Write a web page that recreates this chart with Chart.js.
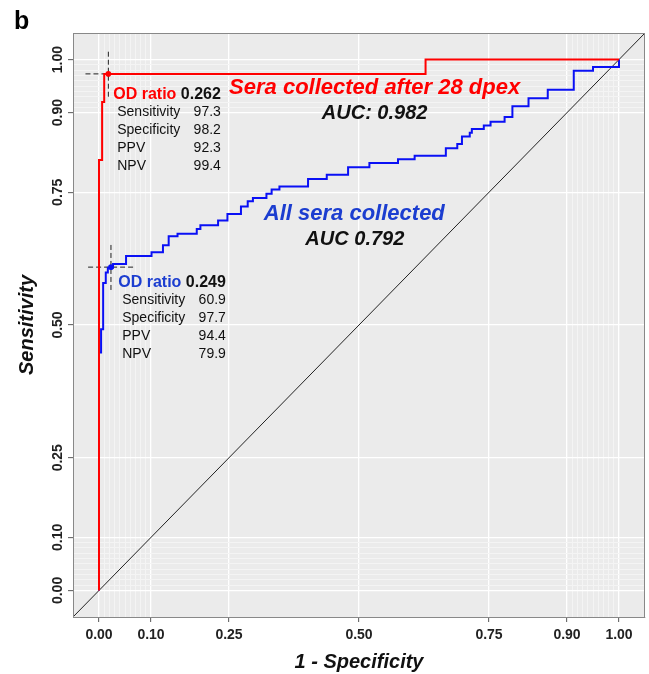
<!DOCTYPE html>
<html>
<head>
<meta charset="utf-8">
<script src="https://cdn.jsdelivr.net/npm/chart.js@4.4.1/dist/chart.umd.min.js"></script>
<style>
  body { margin: 0; background: #fff; }
  #wrap { width: 649px; height: 674px; }
</style>
</head>
<body>
<div id="wrap"><canvas id="roc" width="649" height="674"></canvas></div>
<script>
// ROC curves: 1 - specificity (fpr) and sensitivity (tpr) at each step
var redFpr = [0, 0, 0.006, 0.010, 0.628, 1.0];
var redTpr = [0, 0.811, 0.920, 0.973, 1.0, 1.0];

var blueFpr = [0, 0, 0.004, 0.008, 0.013, 0.017, 0.027, 0.052, 0.101, 0.123, 0.134, 0.151,
  0.188, 0.195, 0.229, 0.247, 0.273, 0.286, 0.296, 0.322, 0.332, 0.347, 0.402, 0.438,
  0.479, 0.520, 0.575, 0.607, 0.667, 0.689, 0.698, 0.713, 0.717, 0.740, 0.753, 0.780,
  0.795, 0.826, 0.863, 0.913, 0.950, 1.0];
var blueTpr = [0, 0.448, 0.492, 0.579, 0.599, 0.608, 0.615, 0.630, 0.637, 0.650, 0.667, 0.672,
  0.681, 0.688, 0.697, 0.709, 0.723, 0.733, 0.739, 0.747, 0.755, 0.761, 0.775, 0.783,
  0.797, 0.805, 0.812, 0.819, 0.833, 0.841, 0.855, 0.862, 0.869, 0.876, 0.883, 0.892,
  0.912, 0.927, 0.943, 0.979, 0.986, 1.0];

// best cut-off points (red, blue)
var cutFpr = [0.018, 0.023];
var cutTpr = [0.973, 0.609];
var odRatio = ['0.262', '0.249'];
var statNames = ['Sensitivity', 'Specificity', 'PPV', 'NPV'];
var redStats = ['97.3', '98.2', '92.3', '99.4'];
var blueStats = ['60.9', '97.7', '94.4', '79.9'];
var curveNames = ['Sera collected after 28 dpex', 'All sera collected'];
var aucText = ['AUC: 0.982', 'AUC 0.792'];

var majorTicks = [0, 0.1, 0.25, 0.5, 0.75, 0.9, 1];

var FONT = '"Liberation Sans", Arial, Helvetica, sans-serif';
var RED = '#ff0000';
var BLUE_LINE = '#0a10f5';
var BLUE_TEXT = '#1b3dd0';

function pts(xs, ys) {
  var out = [];
  for (var i = 0; i < xs.length; i++) out.push({ x: xs[i], y: ys[i] });
  return out;
}

function crossPts(i) {
  var cx = cutFpr[i], cy = cutTpr[i];
  return [
    { x: cx - 0.044, y: cy }, { x: cx + 0.044, y: cy },
    { x: cx, y: null },
    { x: cx, y: cy - 0.043 }, { x: cx, y: cy + 0.043 }
  ];
}

// major ticks plus fine 0.01 lines near both ends
var allTicks = majorTicks.slice();
for (var k = 1; k < 10; k++) {
  allTicks.push(k / 100);
  allTicks.push((90 + k) / 100);
}
allTicks.sort(function (a, b) { return a - b; });

function isMajor(v) {
  return majorTicks.some(function (m) { return Math.abs(m - v) < 1e-6; });
}

function gridColor(c) {
  if (!c.tick) return '#fff';
  return isMajor(c.tick.value) ? '#ffffff' : '#f4f4f4';
}
function gridWidth(c) {
  if (!c.tick) return 1;
  return isMajor(c.tick.value) ? 1.3 : 1;
}
function tickColor(c) {
  if (!c.tick) return '#555';
  return isMajor(c.tick.value) ? '#555' : 'rgba(0,0,0,0)';
}

// text anchors in data units
var blockAt = [{ x: 0.0274, y: 0.926 }, { x: 0.037, y: 0.572 }];
var nameAt = [{ x: 0.530, y: 0.936 }, { x: 0.491, y: 0.697 }];
var aucAt = [{ x: 0.530, y: 0.888 }, { x: 0.492, y: 0.651 }];

function drawBlock(ctx, xs, ys, i, color, stats) {
  var x = xs.getPixelForValue(blockAt[i].x);
  var y = ys.getPixelForValue(blockAt[i].y);
  ctx.textAlign = 'left';
  ctx.textBaseline = 'alphabetic';
  ctx.font = 'bold 16px ' + FONT;
  ctx.fillStyle = color;
  ctx.fillText('OD ratio', x, y);
  var w = ctx.measureText('OD ratio ').width;
  ctx.fillStyle = '#111';
  ctx.fillText(odRatio[i], x + w, y);
  var right = x + w + ctx.measureText(odRatio[i]).width;
  ctx.font = '14px ' + FONT;
  for (var j = 0; j < statNames.length; j++) {
    var by = y + 17.5 + 18 * j;
    ctx.textAlign = 'left';
    ctx.fillText(statNames[j], x + 4, by);
    ctx.textAlign = 'right';
    ctx.fillText(stats[j], right, by);
  }
}

var panelPlugin = {
  id: 'panel',
  beforeDraw: function (chart) {
    var a = chart.chartArea, ctx = chart.ctx;
    ctx.save();
    ctx.fillStyle = '#ebebeb';
    ctx.fillRect(a.left, a.top, a.right - a.left, a.bottom - a.top);
    ctx.restore();
  },
  afterDraw: function (chart) {
    var a = chart.chartArea, ctx = chart.ctx;
    var xs = chart.scales.x, ys = chart.scales.y;
    ctx.save();
    // panel frame
    ctx.strokeStyle = '#888';
    ctx.lineWidth = 1;
    ctx.strokeRect(a.left + 0.5, a.top + 0.5, a.right - a.left - 1, a.bottom - a.top);

    // rotated y tick labels
    ctx.fillStyle = '#222';
    ctx.font = 'bold 14px ' + FONT;
    ctx.textAlign = 'center';
    ctx.textBaseline = 'alphabetic';
    majorTicks.forEach(function (v) {
      ctx.save();
      ctx.translate(a.left - 11, ys.getPixelForValue(v));
      ctx.rotate(-Math.PI / 2);
      ctx.fillText(v.toFixed(2), 0, 0);
      ctx.restore();
    });

    // cut-off text blocks
    drawBlock(ctx, xs, ys, 0, RED, redStats);
    drawBlock(ctx, xs, ys, 1, BLUE_TEXT, blueStats);

    // curve names and AUC
    ctx.textAlign = 'center';
    ctx.font = 'italic bold 22px ' + FONT;
    ctx.fillStyle = RED;
    ctx.fillText(curveNames[0], xs.getPixelForValue(nameAt[0].x), ys.getPixelForValue(nameAt[0].y));
    ctx.fillStyle = BLUE_TEXT;
    ctx.fillText(curveNames[1], xs.getPixelForValue(nameAt[1].x), ys.getPixelForValue(nameAt[1].y));
    ctx.font = 'italic bold 20px ' + FONT;
    ctx.fillStyle = '#111';
    ctx.fillText(aucText[0], xs.getPixelForValue(aucAt[0].x), ys.getPixelForValue(aucAt[0].y));
    ctx.fillText(aucText[1], xs.getPixelForValue(aucAt[1].x), ys.getPixelForValue(aucAt[1].y));

    // panel letter
    ctx.textAlign = 'left';
    ctx.fillStyle = '#000';
    ctx.font = 'bold 25px ' + FONT;
    ctx.fillText('b', 14, 29);
    ctx.restore();
  }
};

var axisCommon = {
  type: 'linear',
  min: -0.05,
  max: 1.05,
  afterBuildTicks: function (scale) {
    scale.ticks = allTicks.map(function (v) { return { value: v }; });
  },
  grid: { color: gridColor, lineWidth: gridWidth, tickColor: tickColor, tickLength: 5, tickWidth: 1 },
  border: { display: true, color: '#888', width: 1 }
};

new Chart(document.getElementById('roc'), {
  type: 'line',
  data: {
    datasets: [
      { data: pts(redFpr, redTpr), borderColor: RED, borderWidth: 2, stepped: 'before', pointRadius: 0, order: 0 },
      { data: pts(blueFpr, blueTpr), borderColor: BLUE_LINE, borderWidth: 2, stepped: 'before', pointRadius: 0, order: 1 },
      { data: [{ x: cutFpr[0], y: cutTpr[0] }], showLine: false, pointRadius: 2.8, pointBackgroundColor: RED, pointBorderWidth: 0, order: 0 },
      { data: [{ x: cutFpr[1], y: cutTpr[1] }], showLine: false, pointRadius: 2.8, pointBackgroundColor: BLUE_LINE, pointBorderWidth: 0, order: 0 },
      { data: crossPts(0), borderColor: '#222', borderWidth: 1, borderDash: [5, 3], pointRadius: 0, spanGaps: false, order: 2 },
      { data: crossPts(1), borderColor: '#222', borderWidth: 1, borderDash: [5, 3], pointRadius: 0, spanGaps: false, order: 2 },
      { data: [{ x: -0.05, y: -0.05 }, { x: 1.05, y: 1.05 }], borderColor: '#222', borderWidth: 1, pointRadius: 0, order: 3 }
    ]
  },
  options: {
    responsive: false,
    animation: false,
    layout: { padding: { top: 33, right: 2, left: 0, bottom: 0 } },
    plugins: { legend: { display: false }, tooltip: { enabled: false } },
    scales: {
      x: Object.assign({}, axisCommon, {
        afterFit: function (scale) { scale.height = 57; },
        ticks: {
          autoSkip: false, maxRotation: 0, minRotation: 0, padding: 5,
          color: '#222', font: { family: FONT, size: 14, weight: 'bold' },
          callback: function (v) { return isMajor(v) ? v.toFixed(2) : ''; }
        },
        title: {
          display: true, text: '1 - Specificity', color: '#111',
          font: { family: FONT, size: 20, weight: 'bold', style: 'italic' },
          padding: { top: 0, bottom: 0 }
        }
      }),
      y: Object.assign({}, axisCommon, {
        afterFit: function (scale) { scale.width = 73; },
        ticks: { display: false },
        title: {
          display: true, text: 'Sensitivity', color: '#111',
          font: { family: FONT, size: 20, weight: 'bold', style: 'italic' },
          padding: { top: 15, bottom: 0 }
        }
      })
    }
  },
  plugins: [panelPlugin]
});
</script>
</body>
</html>
